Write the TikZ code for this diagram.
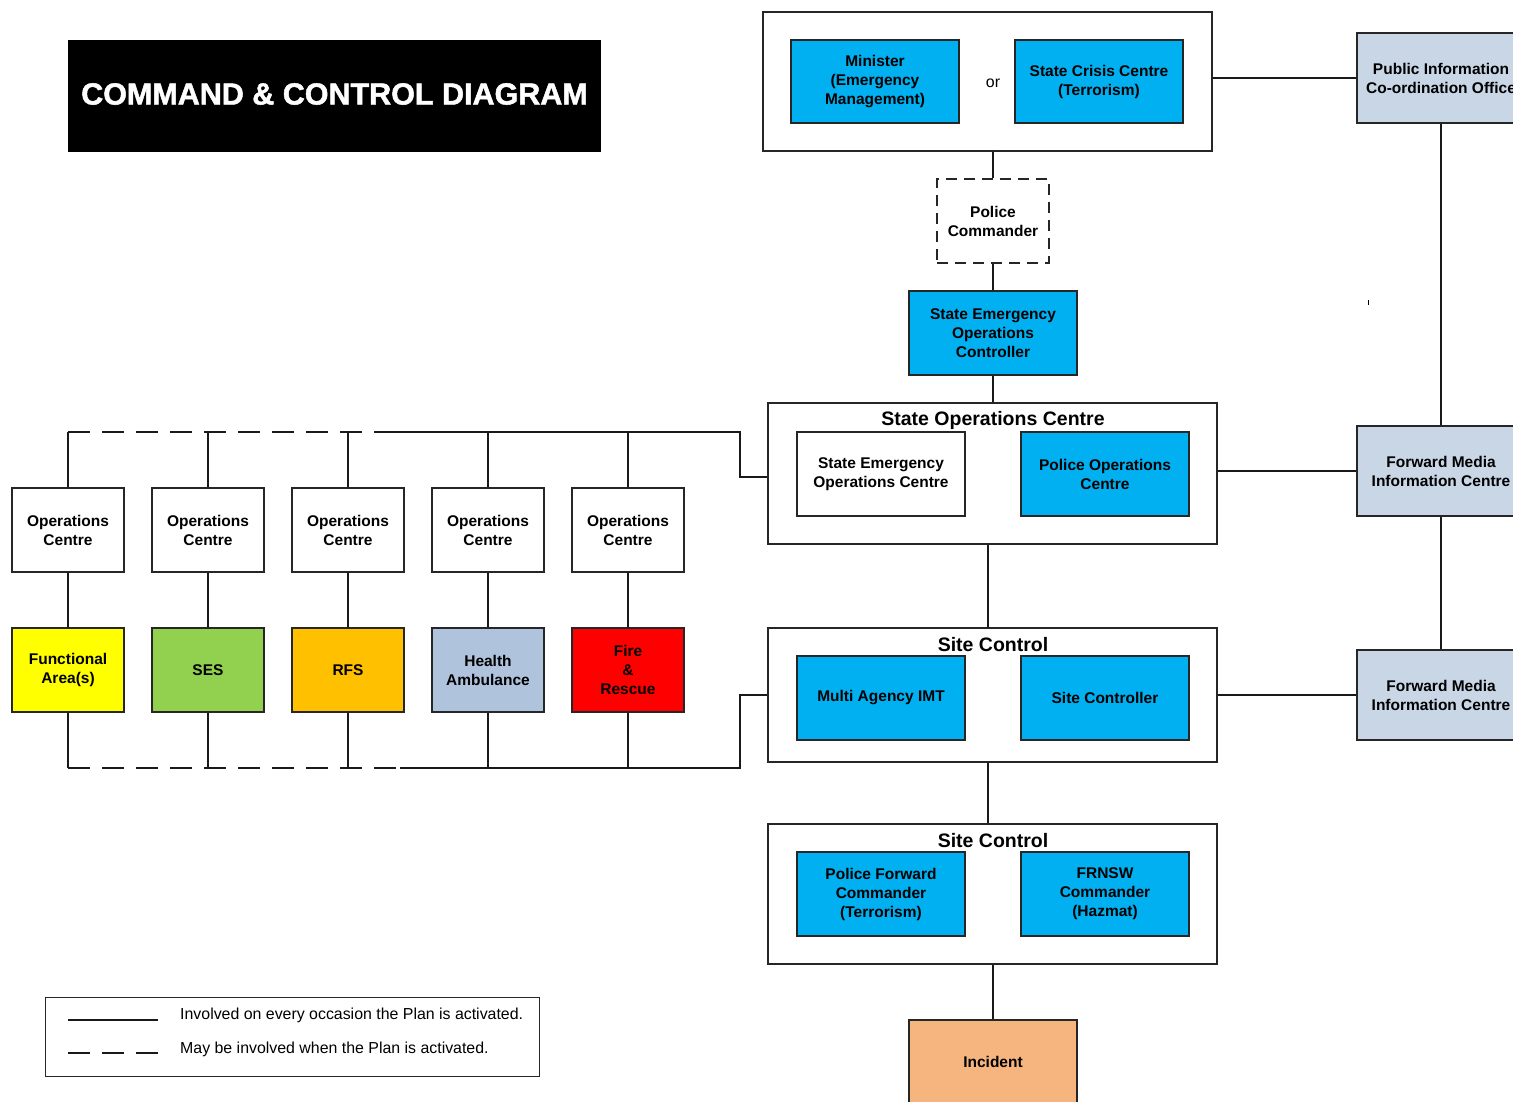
\documentclass[tikz,border=0pt]{standalone}
\usepackage{fontspec}
\setmainfont{Liberation Sans}
\newfontfamily\titlefont[FakeBold=1.6]{Liberation Sans}
\definecolor{cblue}{HTML}{00B0F0}
\definecolor{cgrey}{HTML}{C9D6E6}
\definecolor{camb}{HTML}{B0C3DC}
\definecolor{cyel}{HTML}{FFFF00}
\definecolor{cgreen}{HTML}{92D050}
\definecolor{corange}{HTML}{FFC000}
\definecolor{cred}{HTML}{FF0000}
\definecolor{cinc}{HTML}{F6B47F}
\newcommand{\lblfont}{\bfseries\fontsize{15.5}{19}\selectfont}
\newcommand{\hdfont}{\bfseries\fontsize{19.5}{23}\selectfont}
\newcommand{\regfont}{\fontsize{15.9}{19}\selectfont}
\begin{document}
\begin{tikzpicture}[x=1pt,y=-1pt,
  ln/.style={line width=1.3pt, draw=black!90},
  box/.style={draw=black!85, line width=1.2pt, minimum width=168pt, minimum height=84pt, inner sep=2pt, align=center, font=\lblfont},
  small/.style={box, minimum width=112pt},
  frame/.style={draw=black!85, line width=1.2pt, minimum width=449pt, inner sep=0pt},
  hd/.style={font=\hdfont, inner sep=0pt},
  dsh/.style={ln, dash pattern=on 22pt off 12pt},
  boxdash/.style={dash pattern=on 11pt off 7pt}]
\clip (0,0) rectangle (1513,1101);
\fill[white] (0,0) rectangle (1513,1101);

% title
\node[fill=black, minimum width=533pt, minimum height=112pt, inner sep=0pt] (title) at (334.5,96) {};
\node[font=\titlefont\bfseries\fontsize{30.5}{36}\selectfont, text=white, inner sep=0pt] (titletext) at (334.5,94) {COMMAND \& CONTROL DIAGRAM};

% top group
\node[frame, minimum height=139pt] (top) at (987.5,81.5) {};
\node[box, fill=cblue, minimum height=83pt] (min) at (875,81.5) {Minister\\(Emergency\\Management)};
\node[box, fill=cblue, minimum height=83pt] (scc) at (1099,81.5) {State Crisis Centre\\(Terrorism)};
\node[font=\regfont, inner sep=0pt] (or) at (993,83) {or};

\node[box, fill=cgrey, minimum height=90pt] (pico) at (1441,78) {Public Information\\Co-ordination Office};
\node[box, fill=white, minimum width=112pt, boxdash] (pc) at (993,221) {Police\\Commander};
\node[box, fill=cblue] (seoc) at (993,333) {State Emergency\\Operations\\Controller};

% State operations centre
\node[frame, minimum height=141pt] (soc) at (992.5,473.5) {};
\node[hd] (soct) at (993,420) {State Operations Centre};
\node[box, fill=white] (seocen) at (881,474) {State Emergency\\Operations Centre};
\node[box, fill=cblue] (poc) at (1105,474) {Police Operations\\Centre};
\node[box, fill=cgrey, minimum height=90pt] (fmic1) at (1441,471) {Forward Media\\Information Centre};

% Site control 1
\node[frame, minimum height=134pt] (sc1) at (992.5,695) {};
\node[hd] (sc1t) at (993,645) {Site Control};
\node[box, fill=cblue] (imt) at (881,698) {Multi Agency IMT};
\node[box, fill=cblue] (sctl) at (1105,698) {Site Controller};
\node[box, fill=cgrey, minimum height=90pt] (fmic2) at (1441,695) {Forward Media\\Information Centre};

% Site control 2
\node[frame, minimum height=140pt] (sc2) at (992.5,894) {};
\node[hd] (sc2t) at (993,841) {Site Control};
\node[box, fill=cblue] (pfc) at (881,894) {Police Forward\\Commander\\(Terrorism)};
\node[box, fill=cblue] (frn) at (1105,894) {FRNSW\\Commander\\(Hazmat)};
\node[box, fill=cinc] (inc) at (993,1062) {Incident};

% left agencies
\node[small] (oc1) at (68,530) {Operations\\Centre};
\node[small] (oc2) at (208,530) {Operations\\Centre};
\node[small] (oc3) at (348,530) {Operations\\Centre};
\node[small] (oc4) at (488,530) {Operations\\Centre};
\node[small] (oc5) at (628,530) {Operations\\Centre};
\node[small, fill=cyel] (ag1) at (68,670) {Functional\\Area(s)};
\node[small, fill=cgreen] (ag2) at (208,670) {SES};
\node[small, fill=corange] (ag3) at (348,670) {RFS};
\node[small, fill=camb] (ag4) at (488,670) {Health\\Ambulance};
\node[small, fill=cred] (ag5) at (628,670) {Fire\\\&\\Rescue};

% connectors right side
\draw[ln] (pc.north |- top.south) -- (pc.north);
\draw[ln] (pc.south) -- (seoc.north);
\draw[ln] (seoc.south) -- (seoc.south |- soc.north);
\draw[ln] (pico.west -| top.east) -- (pico.west);
\draw[ln] (pico.south) -- (fmic1.north);
\draw[ln] (fmic1.south) -- (fmic2.north);
\draw[ln] (fmic1.west -| soc.east) -- (fmic1.west);
\draw[ln] (fmic2.west -| sc1.east) -- (fmic2.west);
\draw[ln] ([xshift=-4.5pt]soc.south) -- ([xshift=-4.5pt]sc1.north);
\draw[ln] ([xshift=-4.5pt]sc1.south) -- ([xshift=-4.5pt]sc2.north);
\draw[ln] (inc.north |- sc2.south) -- (inc.north);
\coordinate (tick1) at (1368,300);
\coordinate (tick2) at (1368,305);
\draw[line width=0.8pt] (tick1) -- (tick2);

% left buses
\coordinate (tb) at (740,432);
\coordinate (tk) at (740,477);
\coordinate (tm) at (385,432);
\coordinate (bb) at (740,768);
\coordinate (bk) at (740,695);
\coordinate (bm) at (400,768);
\foreach \i in {1,...,5}{
  \draw[ln] (oc\i.north) -- (oc\i.north |- tb);
  \draw[ln] (oc\i.south) -- (ag\i.north);
  \draw[ln] (ag\i.south) -- (ag\i.south |- bb);
}
\draw[dsh] (oc1.north |- tb) -- (tm);
\draw[ln] (tm) -- (tb) -- (tk) -- (tk -| soc.west);
\draw[dsh] (ag1.south |- bb) -- (bm);
\draw[ln] (bm) -- (bb) -- (bk) -- (bk -| sc1.west);

% legend
\node[draw=black!85, line width=1pt, minimum width=494pt, minimum height=79pt, inner sep=0pt] (legend) at (292,1036.5) {};
\coordinate (l1a) at (68,1020);
\coordinate (l1b) at (158,1020);
\coordinate (l2a) at (68,1053);
\coordinate (l2b) at (158,1053);
\draw[ln] (l1a) -- (l1b);
\draw[ln, dash pattern=on 22pt off 12pt] (l2a) -- (l2b);
\node[font=\regfont, anchor=west, inner sep=0pt] (lt1) at (180,1015) {Involved on every occasion the Plan is activated.};
\node[font=\regfont, anchor=west, inner sep=0pt] (lt2) at (180,1049) {May be involved when the Plan is activated.};
\end{tikzpicture}
\end{document}
